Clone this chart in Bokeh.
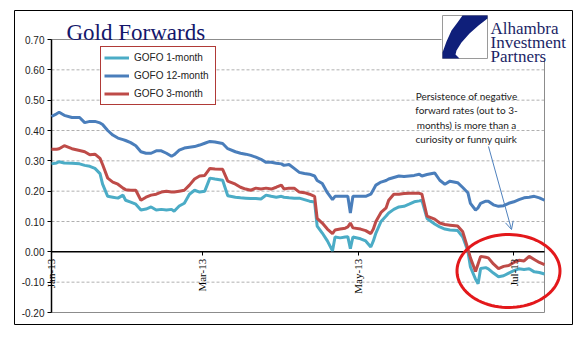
import numpy as np
import pandas as pd
from bokeh.plotting import figure
from bokeh.models import (Range1d, FixedTicker, NumeralTickFormatter, DatetimeTickFormatter,
                          LinearAxis, DatetimeAxis, Label, BoxAnnotation, PolyAnnotation,
                          Arrow, OpenHead, Legend, LegendItem)
from bokeh.embed import file_html
from bokeh.resources import INLINE

# ---------------- data ----------------
dates = [
    "2013-01-01", "2013-01-03", "2013-01-04", "2013-01-06", "2013-01-09", "2013-01-12", "2013-01-14", "2013-01-16", "2013-01-18", "2013-01-20",
    "2013-01-21", "2013-01-23", "2013-01-25", "2013-01-27", "2013-01-29", "2013-01-30", "2013-02-01", "2013-02-03", "2013-02-05", "2013-02-07",
    "2013-02-09", "2013-02-11", "2013-02-13", "2013-02-15", "2013-02-17", "2013-02-18", "2013-02-20", "2013-02-22", "2013-02-24", "2013-02-26",
    "2013-02-28", "2013-03-02", "2013-03-04", "2013-03-06", "2013-03-09", "2013-03-11", "2013-03-14", "2013-03-16", "2013-03-18", "2013-03-20",
    "2013-03-22", "2013-03-24", "2013-03-26", "2013-03-28", "2013-03-30", "2013-04-01", "2013-04-02", "2013-04-04", "2013-04-06", "2013-04-08",
    "2013-04-10", "2013-04-12", "2013-04-14", "2013-04-15", "2013-04-17", "2013-04-19", "2013-04-21", "2013-04-22", "2013-04-24", "2013-04-26",
    "2013-04-27", "2013-04-28", "2013-04-29", "2013-05-02", "2013-05-04", "2013-05-06", "2013-05-07", "2013-05-08", "2013-05-10", "2013-05-12",
    "2013-05-13", "2013-05-15", "2013-05-17", "2013-05-19", "2013-05-21", "2013-05-23", "2013-05-25", "2013-05-26", "2013-05-28", "2013-05-31",
    "2013-06-02", "2013-06-04", "2013-06-06", "2013-06-09", "2013-06-11", "2013-06-13", "2013-06-14", "2013-06-16", "2013-06-17", "2013-06-18",
    "2013-06-20", "2013-06-21", "2013-06-23", "2013-06-25", "2013-06-27", "2013-06-29", "2013-07-01", "2013-07-03", "2013-07-05", "2013-07-07",
    "2013-07-09", "2013-07-11", "2013-07-13",
]

gofo_1m = [
    0.290, 0.293, 0.297, 0.293, 0.292, 0.290, 0.285, 0.282, 0.275, 0.258,
    0.223, 0.183, 0.180, 0.177, 0.187, 0.170, 0.164, 0.157, 0.138, 0.141,
    0.148, 0.138, 0.140, 0.138, 0.140, 0.134, 0.151, 0.160, 0.190, 0.203,
    0.197, 0.200, 0.243, 0.240, 0.236, 0.185, 0.180, 0.178, 0.177, 0.176,
    0.176, 0.174, 0.187, 0.183, 0.180, 0.183, 0.180, 0.178, 0.177, 0.177,
    0.172, 0.167, 0.164, 0.085, 0.062, 0.036, 0.003, 0.049, 0.046, 0.049,
    0.050, 0.010, 0.049, 0.043, 0.036, 0.016, 0.036, 0.062, 0.100, 0.118,
    0.128, 0.140, 0.148, 0.150, 0.157, 0.165, 0.168, 0.170, 0.110, 0.092,
    0.082, 0.075, 0.072, 0.070, 0.049, 0.003, -0.050, -0.090, -0.105, -0.055,
    -0.052, -0.056, -0.070, -0.082, -0.079, -0.070, -0.062, -0.056, -0.058, -0.056,
    -0.066, -0.068, -0.073,
]

gofo_12m = [
    0.446, 0.455, 0.460, 0.450, 0.443, 0.443, 0.426, 0.430, 0.430, 0.425,
    0.420, 0.400, 0.385, 0.375, 0.370, 0.367, 0.360, 0.350, 0.330, 0.325,
    0.325, 0.333, 0.333, 0.325, 0.315, 0.320, 0.335, 0.342, 0.345, 0.347,
    0.352, 0.358, 0.364, 0.362, 0.357, 0.340, 0.330, 0.325, 0.322, 0.318,
    0.312, 0.305, 0.295, 0.295, 0.292, 0.290, 0.285, 0.288, 0.275, 0.262,
    0.258, 0.256, 0.250, 0.235, 0.225, 0.195, 0.172, 0.183, 0.183, 0.183,
    0.183, 0.128, 0.183, 0.183, 0.183, 0.190, 0.205, 0.220, 0.230, 0.235,
    0.240, 0.245, 0.250, 0.248, 0.250, 0.252, 0.256, 0.250, 0.255, 0.260,
    0.236, 0.223, 0.233, 0.228, 0.212, 0.195, 0.160, 0.138, 0.145, 0.160,
    0.167, 0.167, 0.155, 0.150, 0.152, 0.160, 0.165, 0.172, 0.178, 0.180,
    0.183, 0.178, 0.170,
]

gofo_3m = [
    0.338, 0.338, 0.340, 0.350, 0.340, 0.334, 0.330, 0.320, 0.322, 0.308,
    0.288, 0.243, 0.230, 0.223, 0.210, 0.205, 0.203, 0.203, 0.170, 0.180,
    0.187, 0.190, 0.197, 0.200, 0.197, 0.197, 0.200, 0.203, 0.220, 0.240,
    0.250, 0.252, 0.275, 0.273, 0.272, 0.233, 0.223, 0.213, 0.207, 0.203,
    0.210, 0.207, 0.210, 0.207, 0.213, 0.220, 0.207, 0.210, 0.210, 0.197,
    0.195, 0.190, 0.183, 0.110, 0.095, 0.075, 0.060, 0.072, 0.075, 0.078,
    0.082, 0.095, 0.079, 0.075, 0.070, 0.060, 0.075, 0.100, 0.130, 0.145,
    0.170, 0.190, 0.190, 0.192, 0.193, 0.193, 0.193, 0.190, 0.118, 0.108,
    0.095, 0.090, 0.088, 0.085, 0.066, 0.010, -0.020, -0.065, -0.040, -0.015,
    -0.018, -0.020, -0.040, -0.055, -0.048, -0.045, -0.035, -0.028, -0.030, -0.015,
    -0.025, -0.035, -0.042,
]

series_names = ["GOFO 1-month", "GOFO 12-month", "GOFO 3-month"]
y_ticks = [-0.2, -0.1, 0.0, 0.1, 0.2, 0.3, 0.4, 0.5, 0.6, 0.7]
x_tick_dates = ["2013-01-01", "2013-03-01", "2013-05-01", "2013-07-01"]
x_start, x_end = "2013-01-01", "2013-07-13"
y_min, y_max = -0.2, 0.7
title_text = "Gold Forwards"
note_lines = ["Persistence of negative", "forward rates (out to 3-",
              "months) is more than a", "curiosity or funny quirk"]
logo_lines = ["Alhambra", "Investment", "Partners"]

# ---------------- layout / styles ----------------
W, H = 577, 341
PX_L, PX_R, PY_T, PY_B = 51, 544, 39, 312      # plot-area edges in canvas pixels
C_1M = "#4bacc6"
C_12M = "#4a7ebb"
C_3M = "#be4b48"
NAVY = "#1b1f66"

x = pd.to_datetime(dates)
xs_ms = pd.Timestamp(x_start).value / 1e6
xe_ms = pd.Timestamp(x_end).value / 1e6
ms_per_px = (xe_ms - xs_ms) / (PX_R - PX_L)
val_per_px = (y_max - y_min) / (PY_B - PY_T)
x_range = Range1d(xs_ms - PX_L * ms_per_px, xe_ms + (W - PX_R) * ms_per_px)
y_range = Range1d(y_min - (H - PY_B) * val_per_px, y_max + PY_T * val_per_px)

p = figure(width=W, height=H, output_backend="svg", toolbar_location=None,
           x_range=x_range, y_range=y_range,
           x_axis_location=None, y_axis_location=None, min_border=0)
p.background_fill_color = "white"
p.border_fill_color = "white"
p.outline_line_color = None
p.grid.visible = False

t0, t1 = pd.Timestamp(x_start), pd.Timestamp(x_end)

# gridlines (dashed), plot-area box, axis lines
grid_vals = [v for v in y_ticks if v not in (y_min, y_max, 0.0)]
p.segment(x0=[t0] * len(grid_vals), x1=[t1] * len(grid_vals), y0=grid_vals, y1=grid_vals,
          line_color="#b0b0b0", line_dash="3 2", line_width=1)
p.quad(left=[t0], right=[t1], bottom=[y_min], top=[y_max],
       fill_alpha=0, line_color="#8c8c8c", line_width=1)

# axes
yaxis = LinearAxis(fixed_location=xs_ms, ticker=FixedTicker(ticks=y_ticks),
                   formatter=NumeralTickFormatter(format="0.00"))
yaxis.axis_line_color = None
yaxis.major_tick_line_color = "black"
yaxis.major_tick_out = 4
yaxis.major_tick_in = 0
yaxis.minor_tick_line_color = None
yaxis.major_label_text_font = "Liberation Sans"
yaxis.major_label_text_font_size = "10px"
yaxis.major_label_text_color = "#222222"
yaxis.major_label_standoff = 3
p.add_layout(yaxis, "left")

fmt = "%b-%y"
xaxis = DatetimeAxis(fixed_location=0,
                     ticker=FixedTicker(ticks=[pd.Timestamp(d).value / 1e6 for d in x_tick_dates]),
                     formatter=DatetimeTickFormatter(years=fmt, months=fmt, days=fmt, hours=fmt,
                                                     minutes=fmt, seconds=fmt, milliseconds=fmt,
                                                     microseconds=fmt, hourmin=fmt, minsec=fmt))
xaxis.axis_line_color = None
xaxis.major_tick_line_color = "black"
xaxis.major_tick_out = 4
xaxis.major_tick_in = 0
xaxis.minor_tick_line_color = None
xaxis.major_label_orientation = np.pi / 2
xaxis.major_label_text_font = "Liberation Serif"
xaxis.major_label_text_font_size = "11px"
xaxis.major_label_text_color = "black"
xaxis.major_label_standoff = 3
p.add_layout(xaxis, "below")

p.segment(x0=[t0], x1=[t0], y0=[y_min], y1=[y_max], line_color="black", line_width=1.5)
p.segment(x0=[t0], x1=[t1], y0=[0], y1=[0], line_color="black", line_width=1.5)

# series
r1 = p.line(x, gofo_1m, line_color=C_1M, line_width=3)
r12 = p.line(x, gofo_12m, line_color=C_12M, line_width=3)
r3 = p.line(x, gofo_3m, line_color=C_3M, line_width=3)

legend = Legend(items=[LegendItem(label=series_names[0], renderers=[r1]),
                       LegendItem(label=series_names[1], renderers=[r12]),
                       LegendItem(label=series_names[2], renderers=[r3])],
                location=(100, H - 105))
legend.border_line_color = "#b03a37"
legend.border_line_width = 1
legend.border_line_alpha = 1
legend.background_fill_color = "white"
legend.background_fill_alpha = 1
legend.label_text_font = "Liberation Sans"
legend.label_text_font_size = "10px"
legend.label_text_color = "#222222"
legend.glyph_width = 25
legend.glyph_height = 15
legend.label_height = 15
legend.label_width = 78
legend.spacing = 3
legend.padding = 3
legend.margin = 0
legend.label_standoff = 5
p.add_layout(legend)

# title
p.add_layout(Label(x=66, y=32, x_units="canvas", y_units="canvas", text=title_text,
                   text_font="Liberation Serif", text_font_size="23px", text_color="#14176b",
                   text_baseline="alphabetic"))

# logo
p.add_layout(BoxAnnotation(left=441, right=571, top=11, bottom=60,
                           left_units="canvas", right_units="canvas",
                           top_units="canvas", bottom_units="canvas",
                           fill_color="white", fill_alpha=1, line_color=None))
p.add_layout(BoxAnnotation(left=442, right=487, top=15, bottom=58,
                           left_units="canvas", right_units="canvas",
                           top_units="canvas", bottom_units="canvas",
                           fill_color="white", fill_alpha=1, line_color="#9a9a9a",
                           line_alpha=1, line_width=1))
logo_xs = [462, 487, 487, 478, 469, 461, 456, 455, 459, 466, 452, 446, 442, 442, 446, 451, 457]
logo_ys = [15, 15, 18, 25, 33, 42, 50, 54, 58, 58, 58, 58, 58, 52, 41, 30, 22]
p.add_layout(PolyAnnotation(xs=logo_xs, ys=logo_ys, xs_units="canvas", ys_units="canvas",
                            fill_color="#0f1f7a", fill_alpha=1, line_color=None))
for i, t in enumerate(logo_lines):
    p.add_layout(Label(x=490, y=27.5 + 14 * i, x_units="canvas", y_units="canvas", text=t,
                       text_font="Liberation Serif", text_font_size="17px", text_color=NAVY,
                       text_baseline="alphabetic"))

# note text and arrow
for i, t in enumerate(note_lines):
    p.add_layout(Label(x=466, y=95 + 14.6 * i, x_units="canvas", y_units="canvas", text=t,
                       text_font="Lato", text_font_size="10px", text_color="#222222",
                       text_align="center", text_baseline="middle"))
p.add_layout(Arrow(x_start=488, y_start=146, x_end=511, y_end=229,
                   start_units="canvas", end_units="canvas",
                   line_color="#4f81bd", line_width=1,
                   end=OpenHead(size=8, line_color="#4f81bd", line_width=1)))

# red ellipse
tt = np.linspace(0, 2 * np.pi, 90)
p.add_layout(PolyAnnotation(xs=list(508 + 51.5 * np.cos(tt)), ys=list(270.5 + 36.5 * np.sin(tt)),
                            xs_units="canvas", ys_units="canvas",
                            fill_alpha=0, line_color="#e3181b", line_alpha=1, line_width=3))

# outer border
p.add_layout(BoxAnnotation(left=14, right=572, top=10, bottom=324,
                           left_units="canvas", right_units="canvas",
                           top_units="canvas", bottom_units="canvas",
                           fill_alpha=0, line_color="black", line_alpha=1, line_width=1))

open("out.html", "w").write(file_html(p, INLINE))
